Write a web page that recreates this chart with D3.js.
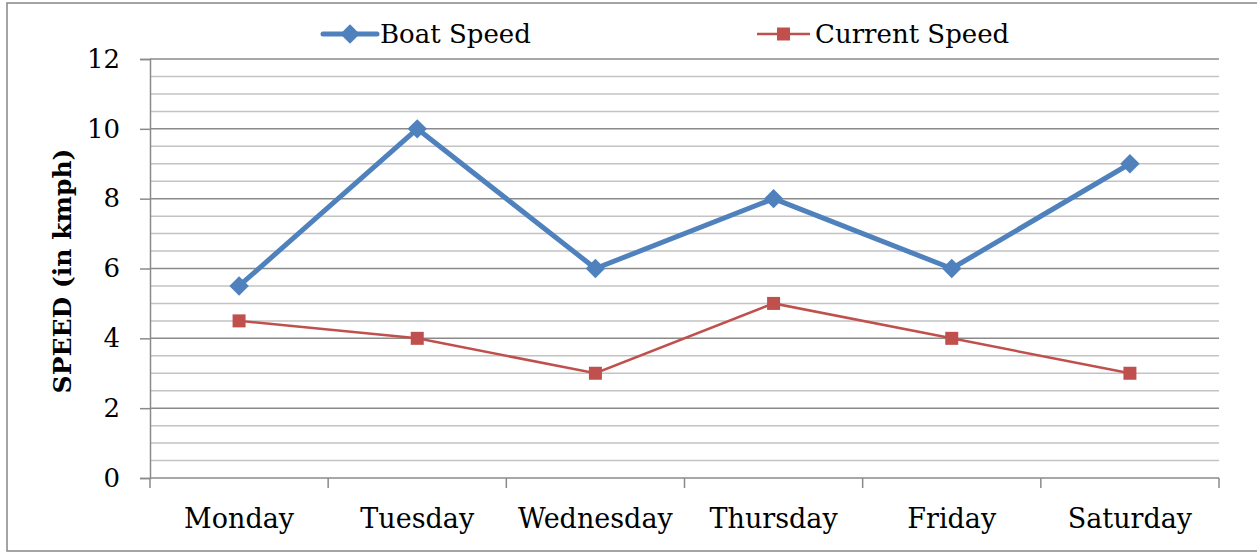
<!DOCTYPE html>
<html><head><meta charset="utf-8">
<script src="https://cdn.jsdelivr.net/npm/d3@7"></script>
<style>body{margin:0;background:#fff}svg{display:block}</style>
</head><body>
<svg id="c" width="1257" height="552"></svg>
<script>
const categories = ["Monday","Tuesday","Wednesday","Thursday","Friday","Saturday"];
const boatSpeed = [5.5, 10, 6, 8, 6, 9];
const currentSpeed = [4.5, 4, 3, 5, 4, 3];
const yTicks = [0, 2, 4, 6, 8, 10, 12];
const seriesNames = ["Boat Speed", "Current Speed"];

const svg = d3.select("#c");
const font = "'DejaVu Serif', serif";
const L = 150, R = 1219, T = 59, B = 478;

svg.append("rect").attr("x",7).attr("y",3).attr("width",1270).attr("height",548)
  .attr("fill","#fff").attr("stroke","#868686").attr("stroke-width",1.5);

const x = d3.scaleBand().domain(categories).range([L, R]);
const y = d3.scaleLinear().domain([0, 12]).range([B, T]);

// minor gridlines
const minor = d3.range(0.5, 12, 0.5).filter(v => v % 2 !== 0);
svg.append("g").selectAll("line").data(minor).join("line")
  .attr("x1", L).attr("x2", R).attr("y1", d => y(d)).attr("y2", d => y(d))
  .attr("stroke", "#c3c3c3").attr("stroke-width", 1.5);
// major gridlines
svg.append("g").selectAll("line").data(yTicks.filter(v => v > 0)).join("line")
  .attr("x1", L).attr("x2", R).attr("y1", d => y(d)).attr("y2", d => y(d))
  .attr("stroke", "#8a8a8a").attr("stroke-width", 1.5);

// y axis
const ya = svg.append("g").attr("transform", `translate(${L},0)`)
  .call(d3.axisLeft(y).tickValues(yTicks).tickSize(10).tickPadding(20));
ya.select(".domain").attr("stroke", "#8a8a8a").attr("stroke-width", 1.5);
ya.selectAll(".tick line").attr("stroke", "#8a8a8a").attr("stroke-width", 1.5);
ya.selectAll("text").attr("font-family", font).attr("font-size", 26).attr("fill", "#000");

// x axis
const xa = svg.append("g").attr("transform", `translate(0,${B})`)
  .call(d3.axisBottom(x).tickSize(0).tickPadding(31));
xa.select(".domain").remove();
xa.selectAll("text").attr("font-family", font).attr("font-size", 27).attr("fill", "#000");
svg.append("line").attr("x1", L).attr("x2", R).attr("y1", B).attr("y2", B)
  .attr("stroke", "#8a8a8a").attr("stroke-width", 1.5);
const bounds = categories.map(c => x(c)).concat([R]);
svg.append("g").selectAll("line").data(bounds).join("line")
  .attr("x1", d => d).attr("x2", d => d).attr("y1", B).attr("y2", B + 10)
  .attr("stroke", "#8a8a8a").attr("stroke-width", 1.5);

// y title
svg.append("text").attr("transform", "translate(71,271) rotate(-90)")
  .attr("text-anchor", "middle").attr("font-family", font).attr("font-weight", "bold")
  .attr("font-size", 25).text("SPEED (in kmph)");

const cx = c => x(c) + x.bandwidth() / 2;
const blue = "#4F81BD", red = "#C0504D";

const line = d3.line().x((d, i) => cx(categories[i])).y(d => y(d));
svg.append("path").datum(currentSpeed).attr("d", line).attr("fill", "none")
  .attr("stroke", red).attr("stroke-width", 2.5);
svg.append("path").datum(boatSpeed).attr("d", line).attr("fill", "none")
  .attr("stroke", blue).attr("stroke-width", 5).attr("stroke-linejoin", "round");

const diamond = d3.symbol().type(d3.symbolDiamond2).size(240);
svg.append("g").selectAll("path").data(boatSpeed).join("path")
  .attr("transform", (d, i) => `translate(${cx(categories[i])},${y(d)})`)
  .attr("d", diamond()).attr("fill", blue);
svg.append("g").selectAll("rect").data(currentSpeed).join("rect")
  .attr("x", (d, i) => cx(categories[i]) - 6.5).attr("y", d => y(d) - 6.5)
  .attr("width", 13).attr("height", 13).attr("fill", red);

// legend
const lg = svg.append("g");
lg.append("line").attr("x1", 323).attr("x2", 377).attr("y1", 34).attr("y2", 34)
  .attr("stroke", blue).attr("stroke-width", 5).attr("stroke-linecap", "round");
lg.append("path").attr("transform", "translate(350,34)").attr("d", diamond()).attr("fill", blue);
lg.append("text").attr("x", 380).attr("y", 43).attr("font-family", font).attr("font-size", 26)
  .text(seriesNames[0]);
lg.append("line").attr("x1", 757).attr("x2", 810).attr("y1", 34).attr("y2", 34)
  .attr("stroke", red).attr("stroke-width", 2.5);
lg.append("rect").attr("x", 777).attr("y", 27.5).attr("width", 13).attr("height", 13).attr("fill", red);
lg.append("text").attr("x", 815).attr("y", 43).attr("font-family", font).attr("font-size", 26)
  .text(seriesNames[1]);
</script>
</body></html>
